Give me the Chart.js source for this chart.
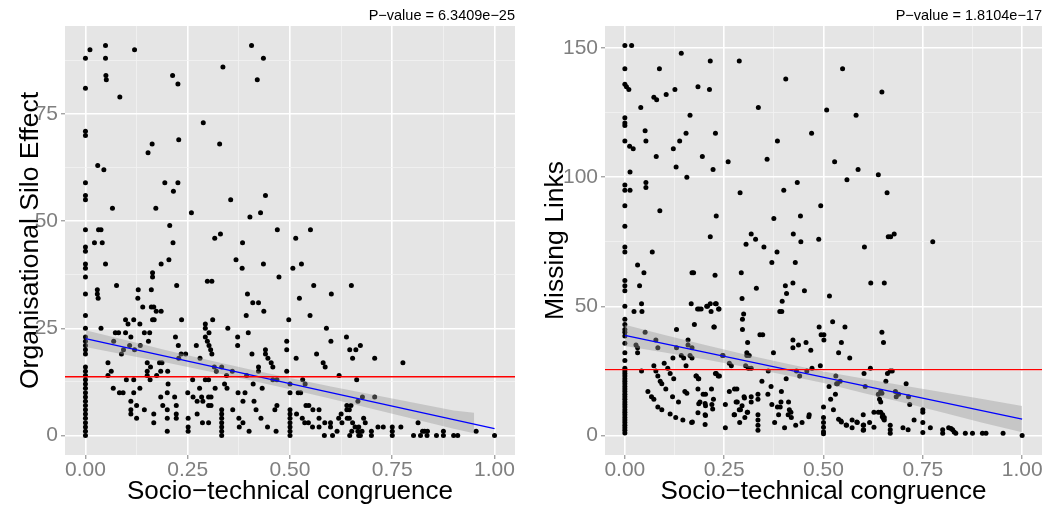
<!DOCTYPE html>
<html><head><meta charset="utf-8">
<script src="https://cdn.jsdelivr.net/npm/chart.js@4/dist/chart.umd.min.js"></script>
<style>
html,body{margin:0;padding:0;background:#fff;}
#wrap{position:relative;width:1046px;height:510px;overflow:hidden;}
canvas{position:absolute;top:0;}
#c1{left:0}
#c2{left:525px}
</style></head><body>
<div id="wrap"><canvas id="c1" width="525" height="510"></canvas><canvas id="c2" width="521" height="510"></canvas></div>
<script>
// ---------- DATA ----------
const xLabels = ['0.00','0.25','0.50','0.75','1.00'];
const xMajor = [0, 0.25, 0.5, 0.75, 1];
const xMinor = [0.125, 0.375, 0.625, 0.875];
const xLimits = [-0.05, 1.05];

const siloTitle = 'Organisational Silo Effect';
const siloPValue = 'P\u2212value = 6.3409e\u221225';
const siloYMajor = [0, 25, 50, 75];
const siloYMinor = [12.5, 37.5, 62.5, 87.5];
const siloYLimits = [-4.55, 95.55];
const siloMean = 13.7;
const siloFit = [[0, 22.6], [1, 1.6]];
const siloBandX = [0, 0.1, 0.2, 0.3, 0.4, 0.5, 0.6, 0.7, 0.8, 0.9, 0.95];
const siloBandLow = [20.65, 18.8, 16.95, 15.0, 12.95, 10.8, 8.55, 6.25, 3.9, 1.55, 0.5];
const siloBandHigh = [24.55, 22.2, 19.85, 17.6, 15.45, 13.4, 11.45, 9.55, 7.7, 5.85, 5.3];
const siloPoints = [
[0,88],[0.011,90],[0.049,91],[0.049,88],[0.12,90],[0.05,84],[0.051,83],[0,81],[0.084,79],[0.213,84],[0.226,82],[0.406,91],[0.435,88],[0.336,86],[0.42,83],[0.288,73],[0,71],[0,70],[0.228,69],[0.163,68],[0.153,66],[0.328,68],[0.03,63],[0.045,62],[0,59],[0.194,59],[0.226,59],[0.215,57],[0,56],[0,55],[0.44,56],[0.355,55],[0.066,53],[0.172,53],[0.259,52],[0.402,51],[0.428,52],[0,48],[0.032,48],[0.038,48],[0.206,49],[0.469,48],[0.55,48],[0.316,46],[0.33,47],[0.514,46],
[0.022,45],[0.041,45],[0,44],[0,43],[0.214,45],[0.384,45],[0,40],[0,39],[0.049,40],[0.185,40],[0.204,41],[0.368,41],[0.383,39],[0.435,40],[0.507,39],[0.528,40],[0,37],[0.164,38],[0.164,37],[0.473,37],[0.298,36],[0.309,36],[0.076,35],[0.223,35],[0.558,35],[0.65,35],[0,33],[0.029,34],[0.029,33],[0.129,34],[0.161,34],[0.396,33],[0.601,33],
[0.031,32],[0.128,32],[0.14,30],[0.161,30],[0.167,30],[0.173,29],[0.185,29],[0,28],[0,25],[0.038,25],[0.098,27],[0.104,26],[0.118,27],[0.133,26],[0.164,27],[0.168,27],[0.235,27],[0.311,27],[0.293,26],[0.293,25],[0.302,24],[0.348,25],[0.409,31],[0.423,31],[0.436,29],[0.393,28],[0.398,24],[0.497,27],[0.073,24],[0.081,24],[0.098,24],[0.144,24],[0.157,24],
[0,23],[0,22],[0,21],[0,20],[0,19],[0.069,22],[0.111,23],[0.154,22],[0.22,23],[0.227,21],[0.271,21],[0.293,23],[0.298,22],[0.302,21],[0.306,20],[0.309,19],[0.108,21],[0.134,21],[0.093,20],[0.12,20],[0.088,19],[0.228,18],[0.234,19],[0.245,19],[0.28,18],[0.055,17],[0.063,15],[0.055,14],[0.151,17],[0.181,17],[0.187,17],[0.159,16],[0.151,15],[0.151,14],[0.184,15],[0.201,15],[0.174,14],[0.158,13],[0.1,13],[0.118,13],
[0,16],[0,15],[0,14],[0,13],[0,12],[0,11],[0,10],[0,9],[0,8],[0,7],[0,6],[0,5],[0,4],[0,3],[0,2],[0,1],[0,0],
[0.315,16],[0.333,16],[0.32,15],[0.345,14],[0.359,15],[0.372,23],[0.372,21],[0.423,16],[0.423,15],[0.407,19],[0.394,14],[0.44,20],[0.44,19],[0.446,18],[0.454,17],[0.458,16],[0.458,13],[0.468,13],[0.492,15],[0.492,22],[0.492,20],[0.262,13],[0.293,13],[0.301,13],
[0.068,11],[0.083,10],[0.092,10],[0.118,10],[0.133,11],[0.111,8],[0.111,6],[0.111,5],[0.125,7],[0.125,4],[0.144,6],[0.167,5],[0.167,3],[0.184,9],[0.189,7],[0.2,10],[0.2,6],[0.2,4],[0.2,1],[0.218,9],[0.222,7],[0.222,5],[0.222,4],[0.202,12],[0.25,10],[0.263,9],[0.273,8],[0.279,11],[0.284,9],[0.273,5],[0.286,3],[0.301,3],[0.251,4],[0.251,2],[0.251,1],[0.301,9],[0.307,9],[0.301,7],[0.307,7],[0.287,8],[0.317,11],[0.34,12],[0.346,11],
[0.333,6],[0.333,5],[0.333,4],[0.333,3],[0.333,2],[0.333,1],[0.333,0],
[0.36,6],[0.373,10],[0.375,4],[0.376,2],[0.385,8],[0.39,10],[0.385,3],[0.4,1],[0.412,8],[0.417,6],[0.41,12],[0.432,11],[0.429,4],[0.445,2],[0.463,6],[0.468,7],[0.466,1],
[0.5,6],[0.5,5],[0.5,4],[0.5,3],[0.5,2],[0.5,1],[0.5,0],[0.5,12],[0.5,10],
[0.523,32],[0.549,28],[0.589,25],[0.6,22],[0.638,23],[0.646,20],[0.661,20],[0.672,21],[0.653,18],[0.707,18],[0.776,17],[0.515,18],[0.565,19],[0.581,17],[0.586,16],[0.62,14],[0.531,13],[0.537,12],[0.663,13],[0.52,10],[0.526,10],[0.677,9],[0.707,9],[0.666,8],[0.649,7],[0.639,7],[0.645,6],[0.639,6],[0.539,7],[0.546,7],[0.556,6],[0.571,6],
[0.516,5],[0.53,4],[0.536,3],[0.545,3],[0.555,2],[0.571,4],[0.571,2],[0.585,3],[0.599,3],[0.599,2],[0.584,0],[0.604,0],[0.615,1],[0.619,4],[0.625,5],[0.627,3],[0.64,4],[0.645,4],[0.653,3],[0.646,0],[0.651,1],[0.659,2],[0.668,2],[0.666,1],[0.668,0],[0.672,0],[0.68,4],[0.684,3],[0.676,1],[0.699,1],[0.699,0],[0.715,2],[0.728,2],[0.75,2],[0.75,1],[0.75,0],[0.771,2],[0.802,0],[0.813,3],[0.819,0],[0.824,1],[0.829,1],[0.835,0],[0.836,1],[0.858,0],[0.875,1],[0.875,0],[0.9,0],[0.91,0],[0.955,1],[1,0]
];

const linksTitle = 'Missing Links';
const linksPValue = 'P\u2212value = 1.8104e\u221217';
const linksYMajor = [0, 50, 100, 150];
const linksYMinor = [25, 75, 125];
const linksYLimits = [-7.55, 158.55];
const linksMean = 25.5;
const linksFit = [[0, 38.8], [1, 6.3]];
const linksBandX = [0, 0.1, 0.2, 0.3, 0.4, 0.5, 0.6, 0.7, 0.8, 0.9, 1.0];
const linksBandLow = [34.7, 32.15, 29.5, 26.65, 23.5, 20.35, 16.5, 12.75, 8.9, 4.95, 1.3];
const linksBandHigh = [42.9, 38.95, 35.1, 31.45, 28.1, 24.75, 22.1, 19.35, 16.7, 14.15, 11.4];
const linksPoints = [
[0,151],[0.017,151],[0,142],[0,136],[0.004,135],[0.01,134],[0.142,148],[0.215,145],[0.288,145],[0.087,142],[0.548,142],[0.405,138],[0.184,135],[0.213,134],[0.126,134],[0.647,133],[0.104,132],[0.073,131],[0.08,130],[0.04,127],[0.336,127],[0.508,126],[0.164,124],[0.582,124],[0,123],[0,121],[0,120],[0.051,118],[0.154,117],[0.228,117],[0.47,117],[0,114],[0.053,114],[0.138,114],[0.384,114],[0.012,112],[0.021,111],[0.122,111],[0.079,108],[0.195,108],[0.26,106],[0.358,107],[0.528,106],[0.129,104],[0.222,103],[0.013,102],[0.156,100],[0.638,101],[0.559,99],[0.587,103],[0,97],[0,95],[0.013,95],[0.053,98],[0.053,96],[0.434,98],[0.4,95],[0.29,94],[0.66,94],[0,89],[0.493,89],[0.088,87],[0.23,85],[0.442,85],[0.375,84],[0,81],[0.318,78],[0.424,78],[0.215,77],[0.329,76],[0.488,76],[0.663,77],[0.669,77],[0.678,78],
[0,73],[0,71],[0.069,71],[0.032,66],[0.305,74],[0.35,73],[0.383,71],[0.37,67],[0.429,67],[0.443,75],[0.603,73],[0.775,75],
[0.048,63],[0.037,58],[0.169,63],[0.173,63],[0.227,62],[0.293,63],[0.331,57],[0.423,59],[0.404,58],[0.619,59],[0.653,59],[0,60],[0,58],[0,56],[0.452,56],[0.295,53],[0.515,54],[0.407,55],[0.396,52],
[0.215,51],[0.206,50],[0.228,51],[0.192,49],[0.236,49],[0.395,48],[0.39,48],[0.167,51],[0.183,49],[0.042,51],[0,50],[0.023,48],[0.043,48],
[0,45],[0,43],[0,41],[0,40],[0,38.5],[0,35.7],[0,32],[0,29],
[0.051,40],[0.13,41],[0.175,43],[0.224,42],[0.296,45],[0.299,47],[0.296,41],[0.34,39],[0.489,42],[0.494,39],[0.501,39],[0.501,37],[0.523,44],[0.554,42],[0.647,40],[0.651,36],[0.545,36],[0.538,32],[0.566,30],
[0.028,35],[0.032,34],[0.032,32],[0.078,37],[0.083,34],[0.042,25],[0.073,27],[0.078,25],[0.083,23],[0.089,21],[0.093,20],[0.103,18],[0.058,17],[0.067,15],[0.073,14],[0.083,11],[0.093,10],[0.114,8.3],[0.128,7],[0.146,6],[0.17,5.2],[0.202,4.3],
[0.099,28],[0.108,26],[0.114,24],[0.123,22],[0.121,30],[0.13,34],[0.142,31],[0.148,30],[0.154,27],[0.135,13],[0.12,15],[0.151,17],[0.156,16.4],[0.159,37],[0.159,35],[0.164,31],[0.169,30],[0.169,34],[0.179,23],[0.185,22],[0.184,18],[0.189,13],[0.202,12.4],[0.202,8],[0.197,16],[0.218,18],[0.223,14],[0.228,24],[0.235,23],[0.253,12],[0.253,3],[0.263,17],[0.263,28],[0.268,27],[0.246,31],[0.276,18],[0.276,8],[0.283,13],[0.291,10],[0.289,5],[0.3,15],[0.302,7],[0.308,9],[0.318,15],[0.318,13],
[0.335,16],[0.335,14],[0.335,8],[0.335,6],[0.335,4],[0.335,2],
[0.307,31],[0.304,27],[0.311,26],[0.318,26],[0.345,21],[0.36,16],[0.361,25],[0.368,19],[0.374,32],[0.377,5],[0.384,11],[0.387,8],[0.394,17],[0.393,13],[0.402,3],[0.406,22],[0.412,13],[0.414,10],[0.419,7],[0.423,37],[0.423,34],[0.43,4],[0.437,35],[0.44,23],[0.446,5],[0.456,36],[0.458,25],[0.464,8],[0.468,33],[0.471,26],[0.492,27],
[0.5,11],[0.5,7],[0.5,5],[0.5,3.2],[0.5,1.5],[0.5,0.7],
[0.514,19],[0.518,14],[0.525,10],[0.53,16],[0.531,23],[0.535,20],[0.542,21],[0.538,6.3],[0.544,5.6],[0.558,4],[0.572,6],[0.572,3],[0.585,5],[0.602,24],[0.605,19],[0.6,8],[0.6,4],[0.6,2],[0.616,5],[0.618,26],[0.627,9],[0.638,9],[0.644,9],[0.649,8],[0.653,6],[0.653,7],[0.638,16],[0.641,14],[0.644,13],[0.644,17],[0.647,16.4],[0.657,21],[0.661,24],[0.668,25],[0.673,25],[0.668,4],[0.668,2.2],[0.668,0.9],[0.681,17],[0.683,15],[0.689,16],[0.708,20],[0.714,15],[0.717,12],[0.7,3],[0.713,2.2],[0.728,6],[0.75,10],[0.75,9],[0.75,5],[0.75,1.2],[0.769,3],[0.8,2.2],[0.8,0.9],[0.815,3],[0.821,2.7],[0.825,2.2],[0.829,1.4],[0.833,0.9],[0.857,0.9],[0.875,0.9],[0.9,0.9],[0.909,0.9],[0.952,0.9],[1,0],
[0.187,49],[0.208,50],[0.217,48],[0.23,51],[0.237,49],[0.225,42],[0.18,23],[0.186,22],[0.203,16],[0.219,12],[0.203,7.7],[0.221,10.3],[0.23,24],[0.238,23],[0.247,31],[0.168,5],[0.184,8.8],[0.203,11.5],[0.186,12.3],[0.282,18],[0.275,8],[0.288,10],[0.28,13],[0.295,11.5],[0.301,14.5],[0.309,9],[0.37,12],[0.391,11],[0.411,8],[0.418,9],[0.432,25],[0.463,7.3],[0.347,39],[0.309,36],[0.307,32],[0.313,31],[0.533,20],[0.545,5.2],[0.557,4.1],[0.584,5.2],[0.601,4.1],[0.601,2.2],[0.627,3.2],[0.648,7.3],[0.651,6.6],
[0,26],[0,25],[0,24],[0,23],[0,22],[0,21],[0,20],[0,19],[0,18],[0,17],[0,16],[0,15],[0,14],[0,13],[0,12],[0,11],[0,10],[0,9],[0,8],[0,7],[0,6],[0,5],[0,4],[0,3],[0,2],[0,1]
];

// ---------- CHART ----------
const FONT = '"Liberation Sans",Arial,Helvetica,sans-serif';
const near = (v, arr) => arr.some(m => Math.abs(m - v) < 1e-9);

function gridFor(majors) {
  return {
    color: c => (c.tick && near(c.tick.value, majors)) ? '#FFFFFF' : '#F2F2F2',
    lineWidth: c => (c.tick && near(c.tick.value, majors)) ? 1.6 : 0.8,
    tickColor: c => (c.tick && near(c.tick.value, majors)) ? '#7F7F7F' : 'rgba(0,0,0,0)',
    tickLength: 4, tickWidth: 1, drawTicks: true, drawOnChartArea: true
  };
}

const panelBg = {
  id: 'panelBg',
  beforeDraw(chart) {
    const {ctx, chartArea: a} = chart;
    ctx.save();
    ctx.fillStyle = '#E5E5E5';
    ctx.fillRect(a.left, a.top, a.right - a.left, a.bottom - a.top);
    ctx.restore();
  }
};

function makePanel(id, o) {
  const pvalPlugin = {
    id: 'pval',
    afterDraw(chart) {
      const {ctx, chartArea: a} = chart;
      ctx.save();
      ctx.font = '14.5px ' + FONT;
      ctx.fillStyle = '#000';
      ctx.textAlign = 'right';
      ctx.textBaseline = 'alphabetic';
      ctx.fillText(o.pval, a.right, 20);
      ctx.restore();
    }
  };
  const toXY = arr => arr.map(p => ({x: p[0], y: p[1]}));
  const yTicks = o.yMajor.concat(o.yMinor).sort((a, b) => a - b);
  const xTicks = xMajor.concat(xMinor).sort((a, b) => a - b);
  new Chart(document.getElementById(id), {
    type: 'scatter',
    data: {
      datasets: [
        {type: 'scatter', data: toXY(o.points), pointRadius: 2.5, pointBackgroundColor: '#000', pointBorderWidth: 0, order: 5},
        {type: 'line', data: o.bandX.map((x, i) => ({x, y: o.bandLow[i]})), borderWidth: 0, pointRadius: 0, fill: false, order: 4, borderColor: 'rgba(0,0,0,0)'},
        {type: 'line', data: o.bandX.map((x, i) => ({x, y: o.bandHigh[i]})), borderWidth: 0, pointRadius: 0, fill: '-1', backgroundColor: 'rgba(153,153,153,0.4)', borderColor: 'rgba(0,0,0,0)', order: 3},
        {type: 'line', data: toXY(o.fit), borderColor: '#0000FF', borderWidth: 1.3, pointRadius: 0, fill: false, order: 2},
        {type: 'line', data: [{x: xLimits[0], y: o.mean}, {x: xLimits[1], y: o.mean}], borderColor: '#FF0000', borderWidth: 1.4, pointRadius: 0, fill: false, order: 1}
      ]
    },
    options: {
      responsive: false, animation: false, devicePixelRatio: 1,
      layout: {padding: {top: 26, right: o.padRight, left: 0, bottom: 0}},
      plugins: {legend: {display: false}, tooltip: {enabled: false}, title: {display: false}},
      scales: {
        x: {
          type: 'linear', min: xLimits[0], max: xLimits[1],
          afterBuildTicks: s => { s.ticks = xTicks.map(v => ({value: v})); },
          afterFit: s => { s.height = 55; },
          ticks: {
            autoSkip: false, maxRotation: 0, minRotation: 0, padding: -1, color: '#7F7F7F',
            font: {family: FONT, size: 21},
            callback: v => { const i = xMajor.findIndex(m => Math.abs(m - v) < 1e-9); return i >= 0 ? xLabels[i] : ''; }
          },
          grid: gridFor(xMajor),
          border: {display: false},
          title: {display: true, text: 'Socio\u2212technical congruence', color: '#000', font: {family: FONT, size: 26, lineHeight: 1}, padding: {top: 0, bottom: 5}}
        },
        y: {
          type: 'linear', min: o.yLimits[0], max: o.yLimits[1],
          afterBuildTicks: s => { s.ticks = yTicks.map(v => ({value: v})); },
          afterFit: s => { s.width = o.yWidth; },
          ticks: {
            autoSkip: false, padding: 3, color: '#7F7F7F',
            font: {family: FONT, size: 21},
            callback: v => near(v, o.yMajor) ? String(v) : ''
          },
          grid: gridFor(o.yMajor),
          border: {display: false},
          title: {display: true, text: o.title, color: '#000', font: {family: FONT, size: 26.5, lineHeight: 1}, padding: {top: 17, bottom: 0}}
        }
      }
    },
    plugins: [panelBg, pvalPlugin]
  });
}

makePanel('c1', {
  points: siloPoints, bandX: siloBandX, bandLow: siloBandLow, bandHigh: siloBandHigh,
  fit: siloFit, mean: siloMean, yMajor: siloYMajor, yMinor: siloYMinor, yLimits: siloYLimits,
  title: siloTitle, pval: siloPValue, yWidth: 65, padRight: 10
});
makePanel('c2', {
  points: linksPoints, bandX: linksBandX, bandLow: linksBandLow, bandHigh: linksBandHigh,
  fit: linksFit, mean: linksMean, yMajor: linksYMajor, yMinor: linksYMinor, yLimits: linksYLimits,
  title: linksTitle, pval: linksPValue, yWidth: 80, padRight: 1
});
</script>
</body></html>
